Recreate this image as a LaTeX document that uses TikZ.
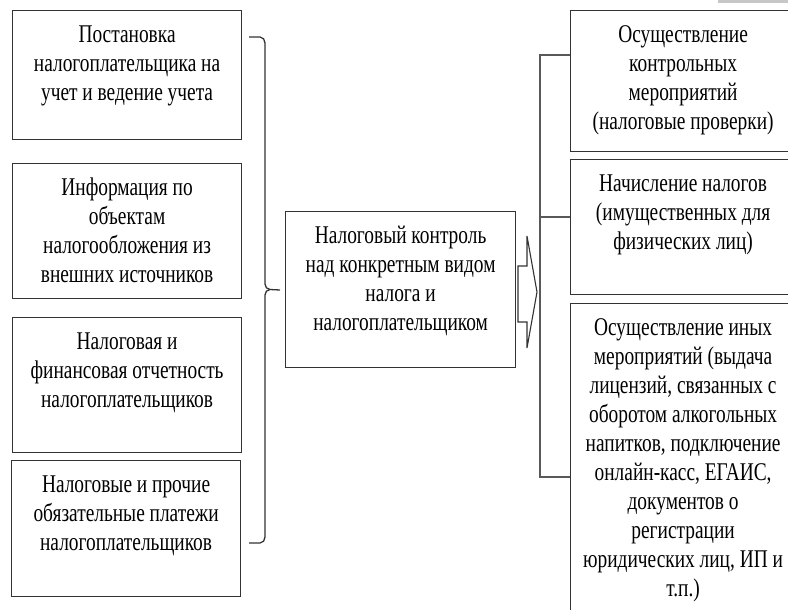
\documentclass[tikz,border=0pt]{standalone}
\usepackage{fontspec}
\setmainfont{Liberation Serif}[FakeStretch=0.76]
\newcommand{\firststrut}{\rule{0pt}{18pt}}
\tikzset{
  x=1pt, y=-1pt,
  boxnode/.style={draw=black!80, line width=1.2pt, rectangle, inner sep=0pt, anchor=north west},
  txt/.style={anchor=north, inner sep=0pt, align=center, text=black,
     font=\fontsize{25.5}{29}\selectfont, yshift=-14pt},
  linkline/.style={draw=black!65, line width=1.1pt},
  bracestyle/.style={draw=black!80, line width=1.3pt}
}
\begin{document}
\begin{tikzpicture}
\useasboundingbox (0,0) rectangle (788,610);
\clip (0,0) rectangle (788,610);
\fill[black!22] (718,0) rectangle (788,3);
% left boxes
\node[boxnode, minimum width=229pt, minimum height=129pt] (l1) at (12,10) {};
\node[txt] (l1t) at (l1.north) {\firststrut Постановка\\налогоплательщика на\\учет и ведение учета};
\node[boxnode, minimum width=229pt, minimum height=135pt] (l2) at (12,163) {};
\node[txt] (l2t) at (l2.north) {\firststrut Информация по\\объектам\\налогообложения из\\внешних источников};
\node[boxnode, minimum width=229pt, minimum height=135pt] (l3) at (12,317) {};
\node[txt] (l3t) at (l3.north) {\firststrut Налоговая и\\финансовая отчетность\\налогоплательщиков};
\node[boxnode, minimum width=229pt, minimum height=136pt] (l4) at (11,460) {};
\node[txt] (l4t) at (l4.north) {\firststrut Налоговые и прочие\\обязательные платежи\\налогоплательщиков};
% middle box
\node[boxnode, minimum width=230pt, minimum height=156pt] (m) at (285,211) {};
\node[txt] (mt) at (m.north) {\firststrut Налоговый контроль\\над конкретным видом\\налога и\\налогоплательщиком};
% right boxes
\node[boxnode, minimum width=225pt, minimum height=141pt] (r1) at (570,10) {};
\node[txt] (r1t) at (r1.north) {\firststrut Осуществление\\контрольных\\мероприятий\\(налоговые проверки)};
\node[boxnode, minimum width=225pt, minimum height=135pt] (r2) at (570,159) {};
\node[txt] (r2t) at (r2.north) {\firststrut Начисление налогов\\(имущественных для\\физических лиц)};
\node[boxnode, minimum width=225pt, minimum height=330pt] (r3) at (570,303) {};
\node[txt] (r3t) at (r3.north) {\firststrut Осуществление иных\\мероприятий (выдача\\лицензий, связанных с\\оборотом алкогольных\\напитков, подключение\\онлайн-касс, ЕГАИС,\\документов о\\регистрации\\юридических лиц, ИП и\\т.п.)};
% brace
\coordinate (bt) at (249,37);
\coordinate (bb) at (249,543);
\coordinate (btip) at (280,290);
\draw[bracestyle, line join=round] (bt) -- (260,37) to[out=0,in=90] (265,43) -- (265,284)
   to[out=-90,in=180] (270,289.5) -- (btip);
\draw[bracestyle, line join=round] (270,289.5) to[out=180,in=90] (265,295) -- (265,537)
   to[out=-90,in=0] (260,543) -- (bb);
% block arrow
\draw[draw=black!80, line width=1.1pt, line join=miter, fill=white]
  (518,266) -- (527,266) -- (527,236) -- (537,292) -- (527,348) -- (527,322) -- (518,322) -- cycle;
% right connector
\coordinate (c1) at (r1.west |- 0,55);
\coordinate (c2) at (r2.west |- 0,217);
\coordinate (c3) at (r3.west |- 0,477);
\coordinate (v1) at (540,55);
\coordinate (v2) at (540,217);
\coordinate (v3) at (540,477);
\draw[linkline] (c1) -- (v1) -- (v3) -- (c3);
\draw[linkline] (v2) -- (c2);
\end{tikzpicture}
\end{document}
